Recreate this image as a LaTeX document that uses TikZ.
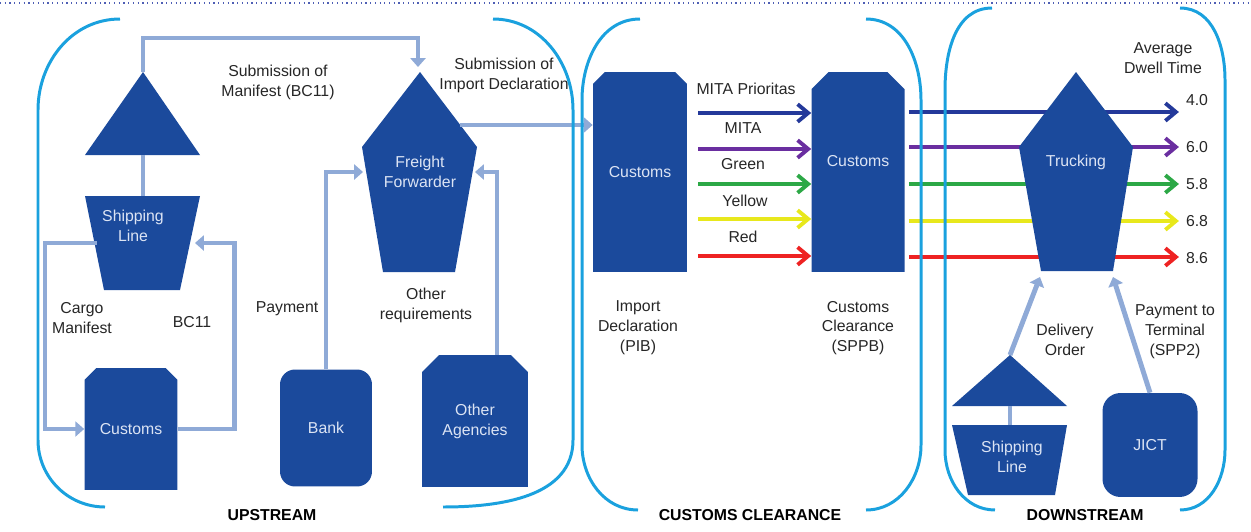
\documentclass[tikz,border=0pt]{standalone}
\usepackage{fontspec}
\setmainfont{Liberation Sans}
\usetikzlibrary{arrows.meta,shapes.misc}

\definecolor{boxblue}{HTML}{1B4A9C}
\definecolor{linkblue}{HTML}{8FAAD7}
\definecolor{arcblue}{HTML}{1AA1DE}
\definecolor{boxtext}{HTML}{DCE4F4}
\definecolor{dotline}{HTML}{4F5FB5}
\definecolor{fnavy}{HTML}{24399A}
\definecolor{fpurple}{HTML}{6A2EA0}
\definecolor{fgreen}{HTML}{2CA846}
\definecolor{fyellow}{HTML}{E8E81C}
\definecolor{fred}{HTML}{EE2222}

\tikzset{
  intext/.style={text=boxtext, font=\fontsize{9}{11.3}\selectfont, align=center, inner sep=0pt},
  cbox/.style={intext, fill=boxblue, chamfered rectangle, chamfered rectangle corners={north west,north east}, chamfered rectangle xsep=0.22cm},
  rbox/.style={intext, fill=boxblue, rectangle, rounded corners=0.3cm},
  lbl/.style={font=\fontsize{9}{11.3}\selectfont, align=center, text=black!85, inner sep=1pt},
  stage/.style={font=\fontsize{9}{11}\selectfont\bfseries, text=black},
  link/.style={draw=linkblue, line width=2.8pt, -{Triangle[length=5pt,width=8.5pt]}},
  stem/.style={draw=linkblue, line width=2.8pt},
  bracket/.style={draw=arcblue, line width=1.7pt},
  flow/.style={line width=2.2pt, -{Straight Barb[length=6pt,width=10pt]}}
}

\begin{document}
\begin{tikzpicture}[x=0.02cm, y=-0.02cm]
  \useasboundingbox (0,0) rectangle (1251,531);
  \draw[dotline, dotted, line width=0.7pt] (0,3) -- (1251,3);

  % upstream
  \coordinate (slTop) at (143,72);
  \coordinate (slBase) at (143,155);
  \coordinate (slBody) at (143,196);
  \fill[boxblue] (slTop) -- (200,155) -- (85,155) -- cycle;
  \fill[boxblue] (85,196) -- (200,196) -- (180,290) -- (104,290) -- cycle;
  \node[intext] (sl) at (133,226) {Shipping\\Line};
  \draw[stem] (slBase) -- (slBody);

  \coordinate (ffTop) at (418,67);
  \fill[boxblue] (420,72) -- (477,147) -- (455,272) -- (383,272) -- (362,147) -- cycle;
  \node[intext] (ff) at (420,172) {Freight\\Forwarder};

  \node[cbox, minimum width=1.86cm, minimum height=2.44cm] (cus0) at (131,429) {Customs};
  \node[rbox, minimum width=1.84cm, minimum height=2.34cm] (bank) at (326,428) {Bank};
  \node[cbox, minimum width=2.12cm, minimum height=2.64cm] (oth) at (475,421) {Other\\Agencies};

  % customs clearance
  \node[cbox, minimum width=1.88cm, minimum height=4cm] (cus1) at (640,172) {Customs};
  \node[cbox, minimum width=1.86cm, minimum height=4cm, text depth=12pt] (cus2) at (858,172) {Customs};

  \node[lbl] (n1) at (746,89) {MITA Prioritas};
  \node[lbl] (n2) at (743,128) {MITA};
  \node[lbl] (n3) at (743,164) {Green};
  \node[lbl] (n4) at (745,201) {Yellow};
  \node[lbl] (n5) at (743,237) {Red};
  \foreach \yy/\cc in {113/fnavy, 149/fpurple, 184/fgreen, 219/fyellow, 256/fred}
    \draw[flow, \cc, shorten <=0.22cm] (cus1.east |- 0,\yy) -- (cus2.west |- 0,\yy);

  % downstream
  \node[lbl] (v1) at (1197,100) {4.0};
  \node[lbl] (v2) at (1197,147) {6.0};
  \node[lbl] (v3) at (1197,184) {5.8};
  \node[lbl] (v4) at (1197,221) {6.8};
  \node[lbl] (v5) at (1197,258) {8.6};
  \foreach \yy/\cc/\vv in {112/fnavy/1, 147/fpurple/2, 184/fgreen/3, 221/fyellow/4, 257/fred/5}
    \draw[flow, \cc, shorten <=0.08cm, shorten >=0.1cm] (cus2.east |- 0,\yy) -- (v\vv.west |- 0,\yy);

  \coordinate (trkL) at (1040,277);
  \coordinate (trkR) at (1113,277);
  \fill[boxblue] (1076,72) -- (1133,147) -- (1113,271) -- (1041,271) -- (1019,147) -- cycle;
  \node[intext] (trk) at (1076,162) {Trucking};

  \coordinate (dsTop) at (1010,355);
  \coordinate (dsBase) at (1010,406);
  \coordinate (dsBody) at (1010,425);
  \fill[boxblue] (dsTop) -- (1067,406) -- (952,406) -- cycle;
  \fill[boxblue] (952,425) -- (1067,425) -- (1055,495) -- (968,495) -- cycle;
  \node[intext] (ds) at (1012,457) {Shipping\\Line};
  \draw[stem] (dsBase) -- (dsBody);
  \node[rbox, minimum width=1.9cm, minimum height=2.08cm, rounded corners=0.36cm] (jict) at (1150,445) {JICT};

  % connectors
  \coordinate (slLeft) at (97,243);
  \coordinate (slRight) at (195,243);
  \coordinate (ffLeft) at (363,172);
  \coordinate (ffRight) at (475,172);
  \coordinate (ffOut) at (460,125);
  \coordinate (othTop) at (497,355);
  \draw[link] (slTop) -- ++(0,-34) -| (ffTop);
  \draw[link] (slLeft) -- ++(-52,0) |- (cus0.west);
  \draw[link] (cus0.east) -- ++(57,0) |- (slRight);
  \draw[link] (bank.north) |- (ffLeft);
  \draw[link] (othTop) |- (ffRight);
  \draw[link] (ffOut) -- (cus1.west |- ffOut);
  \draw[link] (dsTop) -- (trkL);
  \draw[link] (jict.north) -- (trkR);

  % labels
  \node[lbl] (t1) at (278,82) {Submission of\\Manifest (BC11)};
  \node[lbl] (t2) at (504,75) {Submission of\\Import Declaration};
  \node[lbl] (t3) at (82,318) {Cargo\\Manifest};
  \node[lbl] (t4) at (192,322) {BC11};
  \node[lbl] (t5) at (287,309) {Payment};
  \node[lbl] (t6) at (426,305) {Other\\requirements};
  \node[lbl] (t7) at (638,328) {Import\\Declaration\\(PIB)};
  \node[lbl] (t8) at (858,328) {Customs\\Clearance\\(SPPB)};
  \node[lbl] (t9) at (1163,58) {Average\\Dwell Time};
  \node[lbl] (t10) at (1065,340) {Delivery\\Order};
  \node[lbl] (t11) at (1175,332) {Payment to\\Terminal\\(SPP2)};

  % stage brackets
  \draw[bracket] (120,19) to[out=180,in=90] (38,110) -- (38,440) to[out=-90,in=180] (105,507);
  \draw[bracket] (493,19) to[out=0,in=90] (573,110) -- (573,440) to[out=-90,in=0] (443,507);
  \draw[bracket] (640,19) to[out=180,in=90] (582,100) -- (582,445) to[out=-90,in=180] (638,510);
  \draw[bracket] (866,19) to[out=0,in=90] (921,100) -- (921,445) to[out=-90,in=0] (866,510);
  \draw[bracket] (992,8) to[out=180,in=90] (945,90) -- (945,450) to[out=-90,in=180] (995,510);
  \draw[bracket] (1180,8) to[out=0,in=90] (1225,80) -- (1225,450) to[out=-90,in=0] (1180,510);

  \node[stage] (up) at (272,515) {UPSTREAM};
  \node[stage] (cc) at (750,515) {CUSTOMS CLEARANCE};
  \node[stage] (dn) at (1085,515) {DOWNSTREAM};
\end{tikzpicture}
\end{document}
